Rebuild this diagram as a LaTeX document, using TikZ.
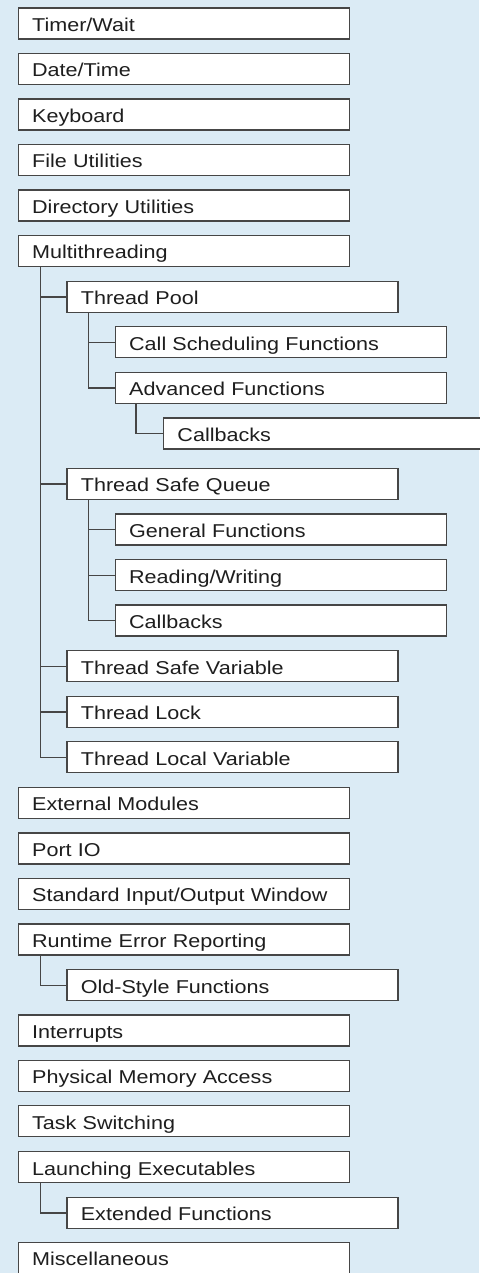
\documentclass[tikz,border=0pt]{standalone}
\usepackage{fontspec}
\setmainfont{Liberation Sans}[FakeStretch=1.16]
\definecolor{bgblue}{RGB}{219,235,245}
\definecolor{boxline}{RGB}{70,70,70}
\definecolor{txt}{RGB}{30,30,30}
\tikzset{
  box/.style={draw=boxline, fill=white, line width=1.3pt, inner xsep=14pt, inner ysep=0pt,
    text width=303pt, minimum height=31pt, text height=16pt, text depth=0pt,
    align=left, anchor=north west, text=txt, font=\fontsize{18.6pt}{20pt}\selectfont},
  link/.style={draw=boxline, line width=1.3pt}
}
\begin{document}
\begin{tikzpicture}[x=1pt,y=-1pt]
\fill[bgblue] (0,0) rectangle (479,1273);
\useasboundingbox (0,0) rectangle (479,1273);
% level 0 left 17.5, level 1 left 66.2, level 2 left 114.5, level 3 left 162.8
\node[box] (r0)  at (17.5,7.5)    {Timer/Wait};
\node[box] (r1)  at (17.5,52.7)   {Date/Time};
\node[box] (r2)  at (17.5,98.3)   {Keyboard};
\node[box] (r3)  at (17.5,143.7)  {File Utilities};
\node[box] (r4)  at (17.5,189.3)  {Directory Utilities};
\node[box] (r5)  at (17.5,234.7)  {Multithreading};
\node[box] (r6)  at (66.2,280.7)  {Thread Pool};
\node[box] (r7)  at (114.5,326)   {Call Scheduling Functions};
\node[box] (r8)  at (114.5,371.7) {Advanced Functions};
\node[box] (r9)  at (162.8,417.3) {Callbacks};
\node[box] (r10) at (66.2,467.7)  {Thread Safe Queue};
\node[box] (r11) at (114.5,513.3) {General Functions};
\node[box] (r12) at (114.5,559)   {Reading/Writing};
\node[box] (r13) at (114.5,604.3) {Callbacks};
\node[box] (r14) at (66.2,650)    {Thread Safe Variable};
\node[box] (r15) at (66.2,695.7)  {Thread Lock};
\node[box] (r16) at (66.2,741)    {Thread Local Variable};
\node[box] (r17) at (17.5,786.7)  {External Modules};
\node[box] (r18) at (17.5,832.3)  {Port IO};
\node[box] (r19) at (17.5,877.7)  {Standard Input/Output Window};
\node[box] (r20) at (17.5,923.3)  {Runtime Error Reporting};
\node[box] (r21) at (66.2,969)    {Old-Style Functions};
\node[box] (r22) at (17.5,1014.3) {Interrupts};
\node[box] (r23) at (17.5,1059.7) {Physical Memory Access};
\node[box] (r24) at (17.5,1105)   {Task Switching};
\node[box] (r25) at (17.5,1151)   {Launching Executables};
\node[box] (r26) at (66.2,1196.7) {Extended Functions};
\node[box] (r27) at (17.5,1241.7) {Miscellaneous};
% connectors
\draw[link] ([xshift=22.8pt]r5.south west) |- (r16.west);
\draw[link] ([xshift=22.8pt]r5.south west) |- (r6.west);
\draw[link] ([xshift=22.8pt]r5.south west) |- (r10.west);
\draw[link] ([xshift=22.8pt]r5.south west) |- (r14.west);
\draw[link] ([xshift=22.8pt]r5.south west) |- (r15.west);
\draw[link] ([xshift=22.1pt]r6.south west) |- (r7.west);
\draw[link] ([xshift=22.1pt]r6.south west) |- (r8.west);
\draw[link] ([xshift=21.5pt]r8.south west) |- (r9.west);
\draw[link] ([xshift=22.1pt]r10.south west) |- (r11.west);
\draw[link] ([xshift=22.1pt]r10.south west) |- (r12.west);
\draw[link] ([xshift=22.1pt]r10.south west) |- (r13.west);
\draw[link] ([xshift=22.8pt]r20.south west) |- (r21.west);
\draw[link] ([xshift=22.8pt]r25.south west) |- (r26.west);
\end{tikzpicture}
\end{document}
